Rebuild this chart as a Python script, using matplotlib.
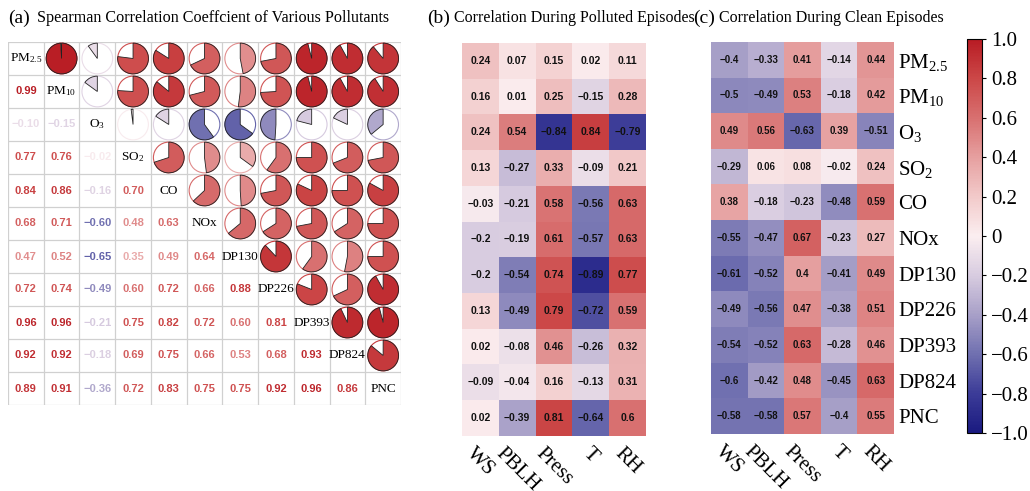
import numpy as np
import matplotlib
matplotlib.use('Agg')
from matplotlib import pyplot as plt
from matplotlib.colors import LinearSegmentedColormap, Normalize
from matplotlib.patches import Wedge, Circle
from matplotlib.cm import ScalarMappable

plt.rcParams['mathtext.default'] = 'regular'

pollutants = ['PM$_{2.5}$', 'PM$_{10}$', 'O$_{3}$', 'SO$_{2}$', 'CO', 'NOx',
              'DP130', 'DP226', 'DP393', 'DP824', 'PNC']
meteo = ['WS', 'PBLH', 'Press', 'T', 'RH']

# lower triangle of spearman matrix (row by row)
lower = [
    [],
    [0.99],
    [-0.10, -0.15],
    [0.77, 0.76, -0.02],
    [0.84, 0.86, -0.16, 0.70],
    [0.68, 0.71, -0.60, 0.48, 0.63],
    [0.47, 0.52, -0.65, 0.35, 0.49, 0.64],
    [0.72, 0.74, -0.49, 0.60, 0.72, 0.66, 0.88],
    [0.96, 0.96, -0.21, 0.75, 0.82, 0.72, 0.60, 0.81],
    [0.92, 0.92, -0.18, 0.69, 0.75, 0.66, 0.53, 0.68, 0.93],
    [0.89, 0.91, -0.36, 0.72, 0.83, 0.75, 0.75, 0.92, 0.96, 0.86],
]

polluted = np.array([
    [0.24, 0.07, 0.15, 0.02, 0.11],
    [0.16, 0.01, 0.25, -0.15, 0.28],
    [0.24, 0.54, -0.84, 0.84, -0.79],
    [0.13, -0.27, 0.33, -0.09, 0.21],
    [-0.03, -0.21, 0.58, -0.56, 0.63],
    [-0.2, -0.19, 0.61, -0.57, 0.63],
    [-0.2, -0.54, 0.74, -0.89, 0.77],
    [0.13, -0.49, 0.79, -0.72, 0.59],
    [0.02, -0.08, 0.46, -0.26, 0.32],
    [-0.09, -0.04, 0.16, -0.13, 0.31],
    [0.02, -0.39, 0.81, -0.64, 0.6],
])

clean = np.array([
    [-0.4, -0.33, 0.41, -0.14, 0.44],
    [-0.5, -0.49, 0.53, -0.18, 0.42],
    [0.49, 0.56, -0.63, 0.39, -0.51],
    [-0.29, 0.06, 0.08, -0.02, 0.24],
    [0.38, -0.18, -0.23, -0.48, 0.59],
    [-0.55, -0.47, 0.67, -0.23, 0.27],
    [-0.61, -0.52, 0.4, -0.41, 0.49],
    [-0.49, -0.56, 0.47, -0.38, 0.51],
    [-0.54, -0.52, 0.63, -0.28, 0.46],
    [-0.6, -0.42, 0.48, -0.45, 0.63],
    [-0.58, -0.58, 0.57, -0.4, 0.55],
])

# build full symmetric matrix
n = len(pollutants)
corr = np.eye(n)
for i, row in enumerate(lower):
    for j, v in enumerate(row):
        corr[i, j] = v
        corr[j, i] = v

cmap = LinearSegmentedColormap.from_list('rdbu_soft', [
    (0.0, '#1a1a80'), (0.1, '#3c3c98'), (0.2, '#7070b0'), (0.3, '#a8a0c8'),
    (0.4, '#d8cce0'), (0.5, '#fbeef0'), (0.6, '#f2caca'), (0.7, '#e6a0a0'),
    (0.8, '#d87070'), (0.9, '#cc4848'), (1.0, '#b81c24')])
norm = Normalize(-1, 1)

W, H = 1030, 491
fig = plt.figure(figsize=(W / 100, H / 100), dpi=100)


def box(l, t, r, b):
    return [l / W, 1 - b / H, (r - l) / W, (b - t) / H]


serif = 'Liberation Serif'
sans = 'Liberation Sans'

# ---- (a) corrplot
ax = fig.add_axes(box(8, 42, 401, 405))
hr = (405 - 42) / (401 - 8) * 1.0
ax.set_xlim(0, n)
ax.set_ylim(0, n * hr)
ax.set_axis_off()
for k in range(n + 1):
    ax.plot([k, k], [0, n * hr], color='#d0d0d0', lw=0.9, zorder=0)
    ax.plot([0, n], [k * hr, k * hr], color='#d0d0d0', lw=0.9, zorder=0)

for i in range(n):
    cy = (n - 1 - i) * hr + hr / 2
    for j in range(n):
        cx = j + 0.5
        v = corr[i, j]
        if i == j:
            ax.text(cx, cy, pollutants[i], ha='center', va='center',
                    family=serif, fontsize=9.5)
        elif i > j:
            ax.text(cx, cy, f'{v:.2f}'.replace('-', '\u2212'), ha='center', va='center',
                    family=sans, fontweight='bold', fontsize=8, color=cmap(norm(v)))
        else:
            r = 0.43
            col = cmap(norm(v))
            ax.add_patch(Circle((cx, cy), r, fill=False, ec=col, lw=0.8))
            if v >= 0:
                t1, t2 = 90 - 360 * v, 90
            else:
                t1, t2 = 90, 90 - 360 * v
            ax.add_patch(Wedge((cx, cy), r, t1, t2, fc=col, ec='#222222', lw=0.6))

fig.text(8 / W, 1 - 18 / H, '(a)', family=serif, fontsize=14, va='center')
fig.text(37 / W, 1 - 18 / H, 'Spearman Correlation Coeffcient of Various Pollutants',
         family=serif, fontsize=11.6, va='center')


def fmt(v):
    s = f'{round(v, 2):g}'
    return s.replace('-', '\u2212')


def heat(axh, data, fsize):
    axh.imshow(data, cmap=cmap, norm=norm, aspect='auto')
    for i in range(data.shape[0]):
        for j in range(data.shape[1]):
            axh.text(j, i, fmt(data[i, j]), ha='center', va='center',
                     family=sans, fontweight='bold', fontsize=fsize, color='#111111')
    axh.set_xticks(range(len(meteo)))
    axh.set_xticklabels(meteo, rotation=-45, family=serif, fontsize=15)
    axh.tick_params(length=0, pad=6)
    for s in axh.spines.values():
        s.set_visible(False)


# ---- (b) polluted
axb = fig.add_axes(box(462, 43, 646, 436))
heat(axb, polluted, 7.5)
axb.set_yticks([])
fig.text(427 / W, 1 - 18 / H, '(b)', family=serif, fontsize=14, va='center')
fig.text(454 / W, 1 - 18 / H, 'Correlation During Polluted Episodes',
         family=serif, fontsize=11.5, va='center')

# ---- (c) clean
axc = fig.add_axes(box(711, 42, 894, 434))
heat(axc, clean, 7)
axc.yaxis.tick_right()
axc.set_yticks(range(n))
axc.set_yticklabels(pollutants, family=serif, fontsize=15)
axc.tick_params(axis='y', pad=3)
fig.text(693 / W, 1 - 18 / H, '(c)', family=serif, fontsize=14, va='center')
fig.text(719 / W, 1 - 18 / H, 'Correlation During Clean Episodes',
         family=serif, fontsize=11.5, va='center')

# ---- colorbar
cax = fig.add_axes(box(967, 39, 982, 433))
cb = fig.colorbar(ScalarMappable(norm=norm, cmap=cmap), cax=cax)
ticks = np.round(np.arange(-1, 1.01, 0.2), 1)
cb.set_ticks(ticks)
cb.set_ticklabels(['0' if t == 0 else f'{t:.1f}'.replace('-', '\u2212') for t in ticks])
cb.outline.set_linewidth(0.8)
cax.tick_params(length=3, width=0.8)
for lab in cax.get_yticklabels():
    lab.set_family(serif)
    lab.set_fontsize(15)

fig.savefig('out.png', dpi=100)
